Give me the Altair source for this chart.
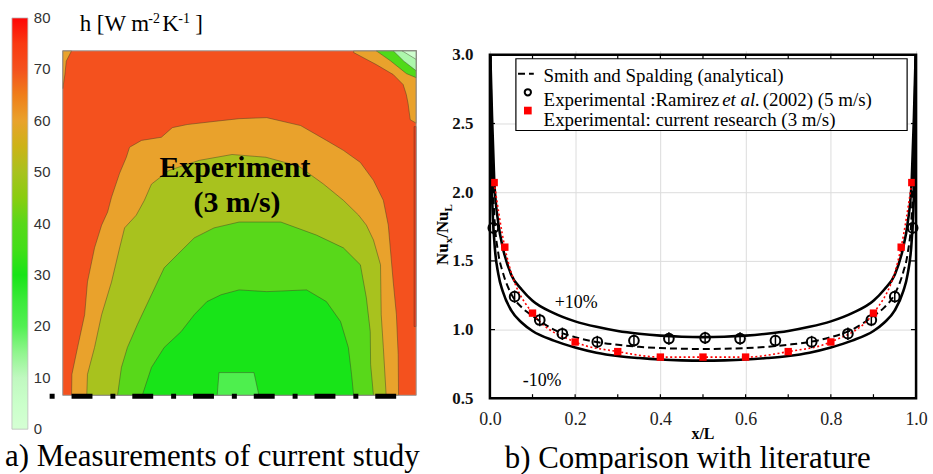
import altair as alt
import pandas as pd

SERIF = "Liberation Serif"
SANS = "Liberation Sans"

# ------------------------------------------------------------------
# (a) contour map of h, band boundaries
#     u = % of map width from the left, v = % of map height from the bottom
# ------------------------------------------------------------------
h_ticks = [0, 10, 20, 30, 40, 50, 60, 70, 80]
h_colors = ["#ffffff", "#c0f8c0", "#52f052", "#18e418", "#58d81a",
            "#a8c21e", "#e9a22c", "#f4511e", "#ff0505"]
h_inner_ticks = [10, 20, 30, 40, 50, 60, 70]
h_end_ticks = ["80", "0"]

red_u = [0.0, 100.0]
red_v = [100.0, 100.0]

orange_u = [2.5, 2.6, 4.2, 6.2, 7.0, 9.0, 11.0, 12.7, 13.8, 16.1, 18.0, 18.9, 22.3, 27.9,
            31.0, 35.2, 42.8, 49.9, 57.7, 67.3, 74.6, 79.4, 84.2, 87.9, 90.7, 92.1, 93.5,
            94.4, 94.9, 95.0]
orange_v = [0.0, 6.1, 13.9, 23.4, 32.9, 42.8, 49.4, 53.2, 57.5, 64.5, 69.1, 72.0, 74.0, 74.9,
            77.7, 78.6, 79.5, 80.3, 80.6, 78.3, 74.0, 71.1, 67.6, 62.4, 56.6, 49.4, 32.9,
            23.4, 11.8, 0.0]

yg_u = [6.8, 7.0, 9.0, 11.0, 13.8, 16.1, 17.5, 20.8, 23.1, 25.1, 30.1, 38.6, 47.9, 57.5,
        66.8, 73.8, 79.4, 83.7, 85.9, 87.9, 89.9, 90.1, 90.7, 91.5]
yg_v = [0.0, 6.1, 13.9, 23.4, 32.9, 42.8, 48.6, 52.3, 56.6, 61.3, 65.3, 68.2, 69.9, 69.1,
        66.5, 61.3, 56.6, 52.3, 49.4, 45.1, 37.9, 23.4, 13.9, 0.0]

green_u = [15.5, 16.6, 18.3, 21.1, 25.1, 28.7, 32.4, 37.2, 42.8, 49.9, 61.7, 71.8, 79.4,
           84.2, 85.9, 87.0, 87.1, 87.9]
green_v = [0.0, 8.1, 13.9, 20.5, 29.2, 37.0, 40.8, 45.7, 48.6, 50.3, 50.3, 46.5, 42.8,
           37.9, 28.3, 18.5, 9.0, 0.0]

bright_u = [22.5, 25.1, 28.7, 33.5, 37.2, 40.8, 44.8, 49.9, 57.7, 69.0, 74.6, 78.6, 80.8,
            81.7, 82.3]
bright_v = [0.0, 8.1, 13.9, 18.5, 23.4, 27.2, 29.2, 30.6, 30.1, 30.6, 27.2, 21.4, 13.9,
            6.1, 0.0]

light_u = [43.7, 44.2, 54.1, 55.5]
light_v = [0.0, 6.6, 6.6, 0.0]

tl_u = [0.0, 0.6, 1.0, 2.2, 2.5]
tl_v = [89.0, 93.0, 97.0, 99.4, 100.0]

tr_orange_u = [82.3, 88.7, 93.5, 96.3, 97.2, 97.7, 98.3, 100.0]
tr_orange_v = [99.5, 96.0, 93.1, 90.2, 87.3, 84.7, 80.0, 79.0]
tr_green_u = [88.7, 92.7, 97.2, 100.0]
tr_green_v = [100.0, 97.1, 93.4, 92.2]
tr_pale_u = [93.5, 96.5, 100.0]
tr_pale_v = [100.0, 97.0, 94.2]
tr_white_u = [96.0, 100.0]
tr_white_v = [100.0, 97.5]
edge_u = [99.4, 100.0]
edge_v = [78.0, 78.0]

# (name, band value h, u, v, base v)
regions = [
    ("red", 70, red_u, red_v, 0.0),
    ("orange", 60, orange_u, orange_v, 0.0),
    ("yg", 50, yg_u, yg_v, 0.0),
    ("green", 40, green_u, green_v, 0.0),
    ("bright", 30, bright_u, bright_v, 0.0),
    ("light", 21, light_u, light_v, 0.0),
    ("tl", 60, tl_u, tl_v, 100.0),
    ("tr_orange", 60, tr_orange_u, tr_orange_v, 100.0),
    ("tr_green", 38, tr_green_u, tr_green_v, 100.0),
    ("tr_pale", 12, tr_pale_u, tr_pale_v, 100.0),
    ("tr_white", 3, tr_white_u, tr_white_v, 100.0),
    ("edge", 76, edge_u, edge_v, 20.0),
]

map_labels = ["Experiment", "(3 m/s)"]
map_label_u = [48.7, 49.3]
map_label_v = [63.3, 53.2]

dash_u = [-3.7, 94.4]
dash_v = -0.3

# ------------------------------------------------------------------
# (b) Nu_x / Nu_L versus x/L
# ------------------------------------------------------------------
x_curve = [0.001, 0.005, 0.01, 0.02, 0.03, 0.05, 0.075, 0.1, 0.15, 0.2, 0.25, 0.3, 0.35, 0.4,
           0.45, 0.5, 0.55, 0.6, 0.65, 0.7, 0.75, 0.8, 0.85, 0.9, 0.925, 0.95, 0.97, 0.98,
           0.99, 0.995, 0.999]
smith = [3.0, 2.25, 1.85, 1.55, 1.42, 1.26, 1.16, 1.10, 1.00, 0.945, 0.91, 0.89, 0.875, 0.866,
         0.861, 0.859, 0.861, 0.866, 0.875, 0.89, 0.91, 0.945, 1.00, 1.10, 1.16, 1.26, 1.42,
         1.55, 1.85, 2.25, 3.0]
plus10 = [3.0, 2.55, 2.10, 1.77, 1.60, 1.40, 1.29, 1.21, 1.12, 1.06, 1.02, 0.99, 0.97, 0.956,
          0.948, 0.945, 0.948, 0.956, 0.97, 0.99, 1.02, 1.06, 1.12, 1.21, 1.29, 1.40, 1.60,
          1.77, 2.10, 2.55, 3.0]
minus10 = [3.0, 2.00, 1.66, 1.40, 1.28, 1.14, 1.05, 0.99, 0.92, 0.87, 0.832, 0.808, 0.793,
           0.782, 0.776, 0.774, 0.776, 0.782, 0.793, 0.808, 0.832, 0.87, 0.92, 0.99, 1.05,
           1.14, 1.28, 1.40, 1.66, 2.00, 3.0]

current_x = [0.01, 0.035, 0.1, 0.2, 0.3, 0.4, 0.5, 0.6, 0.7, 0.8, 0.9, 0.965, 0.99]
current_y = [2.07, 1.60, 1.12, 0.91, 0.84, 0.80, 0.80, 0.80, 0.84, 0.91, 1.12, 1.60, 2.07]

ramirez_x = [0.008, 0.058, 0.117, 0.17, 0.252, 0.338, 0.42, 0.505, 0.587, 0.67, 0.755, 0.84,
             0.895, 0.95, 0.992]
ramirez_y = [1.74, 1.24, 1.07, 0.97, 0.91, 0.92, 0.935, 0.94, 0.935, 0.92, 0.91, 0.97, 1.07,
             1.24, 1.74]

x_ticks = [0.0, 0.2, 0.4, 0.6, 0.8, 1.0]
y_ticks = [0.5, 1.0, 1.5, 2.0, 2.5, 3.0]
x_minor = [0.1, 0.2, 0.3, 0.4, 0.5, 0.6, 0.7, 0.8, 0.9]
y_minor = [1.0, 1.5, 2.0, 2.5]

legend_labels = ["Smith and Spalding (analytical)",
                 "Experimental: current research (3 m/s)"]

# ======================= left panel =======================
MAP_W, MAP_H = 355, 346
map_x = alt.Scale(domain=[0, 100], nice=False, zero=False)
map_y = alt.Scale(domain=[0, 100], nice=False, zero=False)
hscale = alt.Scale(type="linear", domain=h_ticks, range=h_colors)
hlegend = alt.Legend(title=None, orient="none", legendX=-51, legendY=-33,
                     direction="vertical", gradientLength=413, gradientThickness=16,
                     values=h_inner_ticks, labelFont=SANS, labelFontSize=15,
                     labelColor="#333333", labelOffset=6, labelOverlap=False,
                     labelBaseline="middle", gradientStrokeColor="#bbbbbb",
                     gradientStrokeWidth=0.8, padding=0)

rows = []
for name, h, us, vs, base in regions:
    for u, v in zip(us, vs):
        rows.append({"region": name, "h": h, "u": u, "v": v, "v0": base})
reg_df = pd.DataFrame(rows)

left_layers = []
for name, *_ in regions:
    mk = dict(orient="vertical", interpolate="linear")
    if name != "red":
        mk.update(stroke="#3e3e26", strokeWidth=0.6, strokeOpacity=0.75)
    left_layers.append(
        alt.Chart(reg_df).transform_filter(alt.datum.region == name).mark_area(**mk).encode(
            x=alt.X("u:Q", scale=map_x, axis=None),
            y=alt.Y("v:Q", scale=map_y, axis=None),
            y2="v0:Q",
            color=alt.Color("h:Q", scale=hscale, legend=hlegend),
        )
    )

border_df = pd.DataFrame({"u0": [0.0], "u1": [100.0], "v0": [0.0], "v1": [100.0]})
left_layers.append(
    alt.Chart(border_df).mark_rect(fillOpacity=0, stroke="#999999", strokeWidth=1).encode(
        x=alt.X("u0:Q", scale=map_x, axis=None), x2="u1:Q",
        y=alt.Y("v0:Q", scale=map_y, axis=None), y2="v1:Q")
)

dash_df = pd.DataFrame({"u0": [dash_u[0]], "u1": [dash_u[1]], "v": [dash_v]})
left_layers.append(
    alt.Chart(dash_df).mark_rule(color="black", strokeWidth=5, strokeDash=[5, 17, 21, 18]).encode(
        x=alt.X("u0:Q", scale=map_x, axis=None), x2="u1:Q",
        y=alt.Y("v:Q", scale=map_y, axis=None))
)

lab_df = pd.DataFrame({"t": map_labels, "u": map_label_u, "v": map_label_v})
left_layers.append(
    alt.Chart(lab_df).mark_text(font=SERIF, fontSize=30, fontWeight="bold", color="black",
                                baseline="alphabetic", align="center").encode(
        x=alt.X("u:Q", scale=map_x, axis=None),
        y=alt.Y("v:Q", scale=map_y, axis=None), text="t:N")
)

one = pd.DataFrame({"k": [0]})
# colour-bar end labels (the legend itself carries 10 ... 70)
for txt, py in zip(h_end_ticks, [-33, 380]):
    left_layers.append(
        alt.Chart(one).mark_text(text=txt, font=SANS, fontSize=15, color="#333333",
                                 align="left", baseline="middle").encode(
            x=alt.value(-29), y=alt.value(py))
    )

# colour-bar title h [W m^-2 K^-1]
title_parts = [("h [W m", 23, 17, -19.5), ("-2", 14, 86, -28), ("K", 23, 100, -19.5),
               ("-1", 14, 116, -28), ("]", 23, 133, -19.5)]
for txt, fs, px, py in title_parts:
    left_layers.append(
        alt.Chart(one).mark_text(text=txt, font=SERIF, fontSize=fs, color="black",
                                 align="left", baseline="alphabetic").encode(
            x=alt.value(px), y=alt.value(py))
    )
left_layers.append(
    alt.Chart(one).mark_text(text="a) Measurements  of  current  study", font=SERIF,
                             fontSize=31, color="black", align="left",
                             baseline="alphabetic").encode(
        x=alt.value(-58), y=alt.value(417))
)

left = alt.layer(*left_layers).properties(width=MAP_W, height=MAP_H)

# ======================= right panel =======================
R_W, R_H = 428, 349
xr = alt.Scale(domain=[0, 1], nice=False, zero=False)
yr = alt.Scale(domain=[0.5, 3.029], nice=False, zero=False)
x_ax = alt.Axis(values=x_ticks, format=".1f", title=None, grid=True, gridColor="#dcdcdc",
                domain=False, ticks=False, labelFont=SERIF, labelFontSize=18,
                labelColor="#222222", labelPadding=12, labelFlush=False)
y_ax = alt.Axis(values=y_ticks, format=".1f", title=None, grid=True, gridColor="#dcdcdc",
                domain=False, ticks=False, labelFont=SERIF, labelFontSize=17,
                labelFontWeight="bold", labelColor="#111111", labelPadding=17,
                labelFlush=False)


def X(f):
    return alt.X(f, scale=xr, axis=x_ax)


def Y(f):
    return alt.Y(f, scale=yr, axis=y_ax)


curve_df = pd.DataFrame({"x": x_curve, "smith": smith, "plus": plus10, "minus": minus10})
cur_df = pd.DataFrame({"x": current_x, "y": current_y})
ram_df = pd.DataFrame({"x": ramirez_x, "y": ramirez_y})

right_layers = []
for col in ["plus", "minus"]:
    right_layers.append(
        alt.Chart(curve_df).mark_line(color="black", strokeWidth=2.6, interpolate="monotone",
                                      clip=True).encode(x=X("x:Q"), y=Y(f"{col}:Q"))
    )
right_layers.append(
    alt.Chart(curve_df).mark_line(color="black", strokeWidth=2, strokeDash=[7, 4],
                                  interpolate="monotone", clip=True).encode(
        x=X("x:Q"), y=Y("smith:Q"))
)
right_layers.append(
    alt.Chart(cur_df).mark_line(color="red", strokeWidth=1.6, strokeDash=[2, 2.5],
                                interpolate="monotone").encode(x=X("x:Q"), y=Y("y:Q"))
)
right_layers.append(
    alt.Chart(ram_df).transform_calculate(lo="datum.y - 0.045", hi="datum.y + 0.045")
    .mark_rule(color="black", strokeWidth=1.5).encode(x=X("x:Q"), y=Y("lo:Q"), y2="hi:Q")
)
right_layers.append(
    alt.Chart(ram_df).mark_point(shape="circle", filled=False, color="black", size=95,
                                 strokeWidth=2, opacity=1).encode(x=X("x:Q"), y=Y("y:Q"))
)
right_layers.append(
    alt.Chart(cur_df).mark_square(color="red", size=55, opacity=1).encode(
        x=X("x:Q"), y=Y("y:Q"))
)

frame_df = pd.DataFrame({"x0": [0.0], "x1": [1.0], "y0": [0.5], "y1": [3.0]})
right_layers.append(
    alt.Chart(frame_df).mark_rect(fillOpacity=0, stroke="black", strokeWidth=2.5).encode(
        x=X("x0:Q"), x2="x1:Q", y=Y("y0:Q"), y2="y1:Q")
)

tick_rows = []
for t in x_minor:
    tick_rows.append({"x0": t, "x1": t, "y0": 0.5, "y1": 0.53})
    tick_rows.append({"x0": t, "x1": t, "y0": 3.0, "y1": 2.97})
for t in y_minor:
    tick_rows.append({"x0": 0.0, "x1": 0.012, "y0": t, "y1": t})
    tick_rows.append({"x0": 1.0, "x1": 0.988, "y0": t, "y1": t})
tick_df = pd.DataFrame(tick_rows)
right_layers.append(
    alt.Chart(tick_df).mark_rule(color="black", strokeWidth=1.2).encode(
        x=X("x0:Q"), x2="x1:Q", y=Y("y0:Q"), y2="y1:Q")
)

# legend box
lbox_df = pd.DataFrame({"x0": [0.061], "x1": [0.979], "y0": [2.449], "y1": [2.971]})
right_layers.append(
    alt.Chart(lbox_df).mark_rect(fill="white", stroke="black", strokeWidth=1.2).encode(
        x=X("x0:Q"), x2="x1:Q", y=Y("y0:Q"), y2="y1:Q")
)
lsym_dash = pd.DataFrame({"x0": [0.066], "x1": [0.103], "y": [2.862]})
right_layers.append(
    alt.Chart(lsym_dash).mark_rule(color="black", strokeWidth=2, strokeDash=[7, 4]).encode(
        x=X("x0:Q"), x2="x1:Q", y=Y("y:Q"))
)
right_layers.append(
    alt.Chart(pd.DataFrame({"x": [0.089], "y": [2.727]})).mark_point(
        shape="circle", filled=False, color="black", size=40, strokeWidth=2, opacity=1).encode(
        x=X("x:Q"), y=Y("y:Q"))
)
right_layers.append(
    alt.Chart(pd.DataFrame({"x": [0.089], "y": [2.594]})).mark_square(
        color="red", size=60, opacity=1).encode(x=X("x:Q"), y=Y("y:Q"))
)
leg_txt = pd.DataFrame({"x": [0.126, 0.126], "y": [2.80, 2.48], "t": legend_labels})
right_layers.append(
    alt.Chart(leg_txt).mark_text(font=SERIF, fontSize=19, align="left", baseline="alphabetic",
                                 color="black").encode(x=X("x:Q"), y=Y("y:Q"), text="t:N")
)
ram_parts = pd.DataFrame({"x": [0.126, 0.545, 0.640], "y": [2.63, 2.63, 2.63],
                          "t": ["Experimental :Ramirez", "et al.", "(2002) (5 m/s)"],
                          "s": ["normal", "italic", "normal"]})
for style in ["normal", "italic"]:
    right_layers.append(
        alt.Chart(ram_parts).transform_filter(alt.datum.s == style).mark_text(
            font=SERIF, fontSize=19, fontStyle=style, align="left", baseline="alphabetic",
            color="black").encode(x=X("x:Q"), y=Y("y:Q"), text="t:N")
    )

pct_df = pd.DataFrame({"x": [0.152, 0.077], "y": [1.159, 0.587], "t": ["+10%", "-10%"]})
right_layers.append(
    alt.Chart(pct_df).mark_text(font=SERIF, fontSize=18, align="left", baseline="alphabetic",
                                color="black").encode(x=X("x:Q"), y=Y("y:Q"), text="t:N")
)

# axis titles and caption
right_layers.append(
    alt.Chart(one).mark_text(text="x/L", font=SERIF, fontSize=16, fontWeight="bold",
                             align="center", baseline="alphabetic", color="black").encode(
        x=alt.value(214), y=alt.value(390))
)
ytitle = [("Nu", 17, -47, 215), ("x", 11, -41, 193.3), ("/Nu", 17, -47, 187.8),
          ("L", 11, -41, 161.3)]
for txt, fs, px, py in ytitle:
    right_layers.append(
        alt.Chart(one).mark_text(text=txt, font=SERIF, fontSize=fs, fontWeight="bold",
                                 angle=270, align="left", baseline="middle",
                                 color="black").encode(x=alt.value(px), y=alt.value(py))
    )
right_layers.append(
    alt.Chart(one).mark_text(text="b) Comparison  with  literature", font=SERIF, fontSize=31,
                             color="black", align="left", baseline="alphabetic").encode(
        x=alt.value(15), y=alt.value(419))
)

right = alt.layer(*right_layers).properties(width=R_W, height=R_H)

chart = (
    alt.hconcat(left, right, spacing=74, bounds="flush")
    .properties(padding={"left": 5, "top": 10, "right": 5, "bottom": 2}, background="white")
    .configure_view(stroke=None)
)

chart.save("out.html", embed_options={"renderer": "svg", "actions": False})
